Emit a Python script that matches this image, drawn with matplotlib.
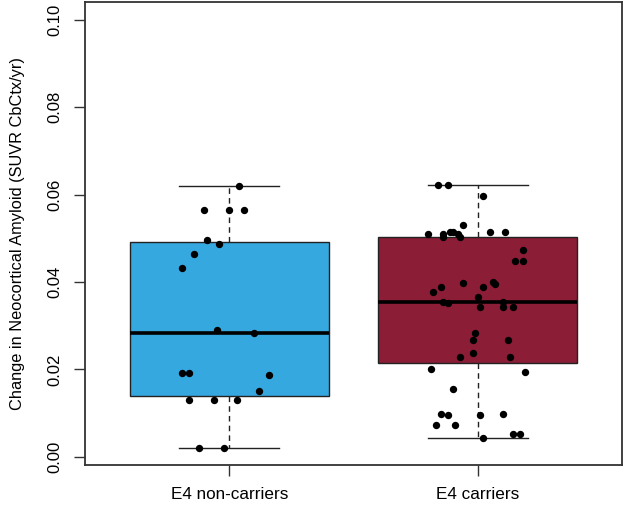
import numpy as np
import matplotlib
matplotlib.use("Agg")
import matplotlib.pyplot as plt

plt.rcParams["font.family"] = ["Liberation Sans", "DejaVu Sans"]

# ── data ─────────────────────────────────────────────────────────────────────
groups     = ["E4 non-carriers", "E4 carriers"]
box_colors = ["#36A8E0", "#8C1D36"]

# box summaries
medians  = [0.0284, 0.0355]
q1s      = [0.0140, 0.0214]
q3s      = [0.0491, 0.0504]
whis_lo  = [0.0020, 0.0043]
whis_hi  = [0.0619, 0.0623]

# jittered points: x offset from group centre, y value
noncarrier_dx = [0.04, -0.10, 0.00, 0.06, -0.09, -0.04, -0.14, -0.19,
                 -0.05, 0.10, -0.19, -0.16, 0.16, 0.12, -0.16, -0.06,
                 0.03, -0.12, -0.02]
noncarrier_y  = [0.0619, 0.0565, 0.0565, 0.0565, 0.0496, 0.0487, 0.0465, 0.0432,
                 0.0290, 0.0284, 0.0191, 0.0192, 0.0187, 0.0151, 0.0130, 0.0130,
                 0.0130, 0.0020, 0.0020]

carrier_dx = [-0.16, -0.12, 0.02, -0.06, -0.20, -0.14, -0.14, -0.11, -0.10,
              -0.08, -0.07, 0.05, 0.11, 0.18, 0.15, 0.18, -0.06, 0.06,
              0.07, -0.15, -0.18, 0.02, 0.00, -0.14, -0.12, 0.01, 0.10,
              0.10, 0.14, -0.01, -0.02, 0.12, -0.02, -0.07, 0.13, -0.19,
              0.19, -0.10, -0.15, -0.12, 0.01, 0.10, -0.17, -0.09, 0.02,
              0.14, 0.17]
carrier_y  = [0.0623, 0.0623, 0.0597, 0.0531, 0.0510, 0.0504, 0.0510, 0.0515, 0.0514,
              0.0510, 0.0504, 0.0514, 0.0514, 0.0474, 0.0449, 0.0449, 0.0397, 0.0400,
              0.0396, 0.0388, 0.0376, 0.0388, 0.0365, 0.0355, 0.0352, 0.0343, 0.0355,
              0.0342, 0.0342, 0.0284, 0.0268, 0.0268, 0.0238, 0.0229, 0.0229, 0.0200,
              0.0195, 0.0154, 0.0097, 0.0096, 0.0096, 0.0097, 0.0072, 0.0072, 0.0043,
              0.0052, 0.0052]

yticks = [0.00, 0.02, 0.04, 0.06, 0.08, 0.10]
ylabel = "Change in Neocortical Amyloid (SUVR CbCtx/yr)"

# ── plot ─────────────────────────────────────────────────────────────────────
fig = plt.figure(figsize=(6.25, 5.16), dpi=100)
ax = fig.add_axes([85 / 625, 51 / 516, 537 / 625, 463 / 516])

stats = []
for i, g in enumerate(groups):
    stats.append(dict(label=g, med=medians[i], q1=q1s[i], q3=q3s[i],
                      whislo=whis_lo[i], whishi=whis_hi[i], fliers=[]))

bp = ax.bxp(stats, positions=[1, 2], widths=0.8, patch_artist=True,
            showfliers=False,
            boxprops=dict(linewidth=1.0, edgecolor="#222222"),
            medianprops=dict(color="black", linewidth=2.6, solid_capstyle="butt"),
            whiskerprops=dict(color="#222222", linewidth=1.0, linestyle=(0, (4, 3))),
            capprops=dict(color="#222222", linewidth=1.0),
            capwidths=0.4)
for patch, c in zip(bp["boxes"], box_colors):
    patch.set_facecolor(c)

ax.plot(1 + np.array(noncarrier_dx), noncarrier_y, "o", color="black",
        markersize=5.3, zorder=5, markeredgewidth=0)
ax.plot(2 + np.array(carrier_dx), carrier_y, "o", color="black",
        markersize=5.3, zorder=5, markeredgewidth=0)

ax.set_xlim(0.42, 2.58)
ax.set_ylim(-0.0019, 0.1041)
ax.set_xticks([1, 2])
ax.set_xticklabels(groups, fontsize=12.3)
ax.set_yticks(yticks)
ax.set_yticklabels([f"{v:.2f}" for v in yticks], fontsize=12, rotation=90,
                   va="center")
ax.set_ylabel(ylabel, fontsize=11.8)
ax.yaxis.set_label_coords(-0.112, 0.5)
ax.tick_params(axis="both", direction="out", length=8, width=1.0,
               color="#333333", pad=8)
for s in ax.spines.values():
    s.set_linewidth(1.3)
    s.set_color("#333333")

fig.savefig("out.png", dpi=100)
